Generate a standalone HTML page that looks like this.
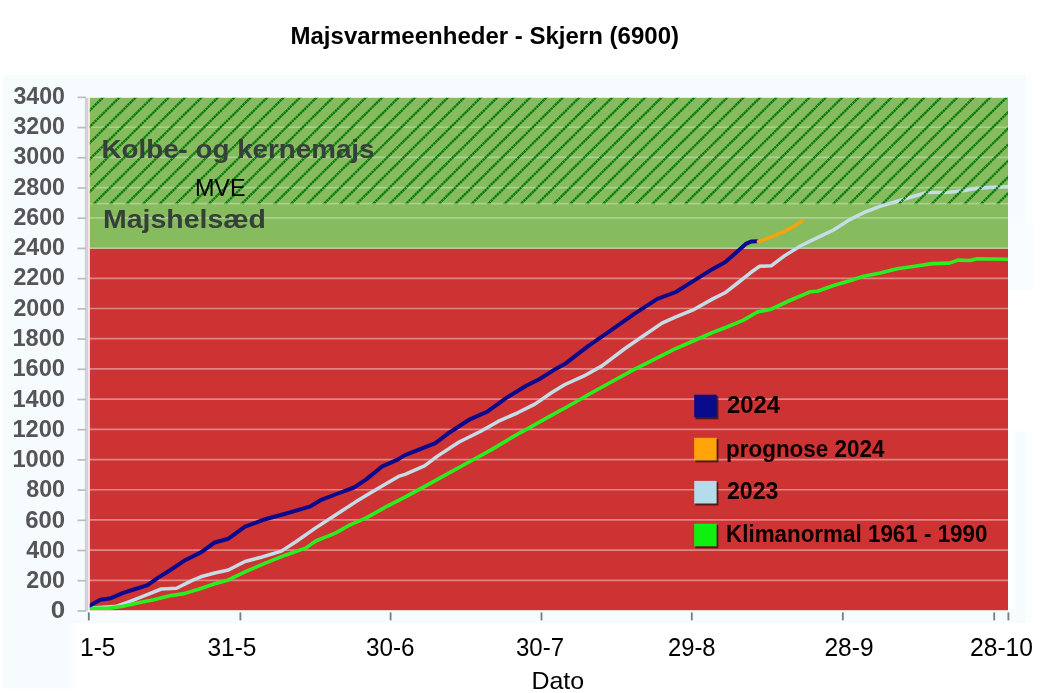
<!DOCTYPE html>
<html lang="da"><head><meta charset="utf-8"><title>Majsvarmeenheder - Skjern (6900)</title>
<style>html,body{margin:0;padding:0;background:#fff}body{width:1049px;height:693px;overflow:hidden}svg{display:block}text{font-family:"Liberation Sans",sans-serif}.b{font-weight:bold}</style>
</head><body>
<svg width="1049" height="693" viewBox="0 0 1049 693">
<defs>
<clipPath id="hz"><rect x="89.8" y="97.8" width="918.2" height="105.5"/></clipPath>
<clipPath id="plot"><rect x="89.8" y="97.8" width="918.2" height="512.4"/></clipPath>
</defs>
<rect x="2.5" y="74.5" width="1029" height="549" fill="#fbfdff"/>
<rect x="2.5" y="74.5" width="73" height="614.5" fill="#fbfdff"/>
<rect x="3.5" y="75.5" width="1022.5" height="547.5" fill="#f6fbfe"/>
<rect x="3.5" y="75.5" width="67.5" height="612.5" fill="#f6fbfe"/>
<rect x="1008" y="223" width="26" height="67" fill="#fafdff"/>
<rect x="1008" y="290" width="26" height="141.5" fill="#ffffff"/>
<rect x="1008" y="431.5" width="7" height="179" fill="#fcfeff"/>
<rect x="89.8" y="248.5" width="918.2" height="361.7" fill="#cd3333"/>
<rect x="89.8" y="97.8" width="918.2" height="150.7" fill="#86bb5e"/>
<line x1="89.8" y1="580.39" x2="1008.0" y2="580.39" stroke="#ffffff" stroke-opacity="0.40" stroke-width="1.7"/>
<line x1="89.8" y1="550.18" x2="1008.0" y2="550.18" stroke="#ffffff" stroke-opacity="0.40" stroke-width="1.7"/>
<line x1="89.8" y1="519.97" x2="1008.0" y2="519.97" stroke="#ffffff" stroke-opacity="0.40" stroke-width="1.7"/>
<line x1="89.8" y1="489.76" x2="1008.0" y2="489.76" stroke="#ffffff" stroke-opacity="0.40" stroke-width="1.7"/>
<line x1="89.8" y1="459.55" x2="1008.0" y2="459.55" stroke="#ffffff" stroke-opacity="0.40" stroke-width="1.7"/>
<line x1="89.8" y1="429.34" x2="1008.0" y2="429.34" stroke="#ffffff" stroke-opacity="0.40" stroke-width="1.7"/>
<line x1="89.8" y1="399.13" x2="1008.0" y2="399.13" stroke="#ffffff" stroke-opacity="0.40" stroke-width="1.7"/>
<line x1="89.8" y1="368.92" x2="1008.0" y2="368.92" stroke="#ffffff" stroke-opacity="0.40" stroke-width="1.7"/>
<line x1="89.8" y1="338.71" x2="1008.0" y2="338.71" stroke="#ffffff" stroke-opacity="0.40" stroke-width="1.7"/>
<line x1="89.8" y1="308.50" x2="1008.0" y2="308.50" stroke="#ffffff" stroke-opacity="0.40" stroke-width="1.7"/>
<line x1="89.8" y1="278.29" x2="1008.0" y2="278.29" stroke="#ffffff" stroke-opacity="0.40" stroke-width="1.7"/>
<line x1="89.8" y1="248.08" x2="1008.0" y2="248.08" stroke="#ffffff" stroke-opacity="0.30" stroke-width="1.7"/>
<line x1="89.8" y1="217.87" x2="1008.0" y2="217.87" stroke="#ffffff" stroke-opacity="0.30" stroke-width="1.7"/>
<line x1="89.8" y1="187.66" x2="1008.0" y2="187.66" stroke="#ffffff" stroke-opacity="0.30" stroke-width="1.7"/>
<line x1="89.8" y1="157.45" x2="1008.0" y2="157.45" stroke="#ffffff" stroke-opacity="0.30" stroke-width="1.7"/>
<line x1="89.8" y1="127.24" x2="1008.0" y2="127.24" stroke="#ffffff" stroke-opacity="0.30" stroke-width="1.7"/>
<line x1="89.8" y1="203.58" x2="1008.0" y2="203.58" stroke="#ffffff" stroke-opacity="0.30" stroke-width="1.6" stroke-dasharray="12.43 4" stroke-dashoffset="9.63"/>
<rect x="84.8" y="97.8" width="3.2" height="513.4" fill="#d2d0dd"/>
<rect x="88" y="97.8" width="1.8" height="512.4" fill="#f6e4e6"/>
<rect x="77.5" y="610.10" width="8.5" height="1.7" fill="#bcbcc2"/>
<rect x="77.5" y="579.89" width="8.5" height="1.7" fill="#bcbcc2"/>
<rect x="77.5" y="549.68" width="8.5" height="1.7" fill="#bcbcc2"/>
<rect x="77.5" y="519.47" width="8.5" height="1.7" fill="#bcbcc2"/>
<rect x="77.5" y="489.26" width="8.5" height="1.7" fill="#bcbcc2"/>
<rect x="77.5" y="459.05" width="8.5" height="1.7" fill="#bcbcc2"/>
<rect x="77.5" y="428.84" width="8.5" height="1.7" fill="#bcbcc2"/>
<rect x="77.5" y="398.63" width="8.5" height="1.7" fill="#bcbcc2"/>
<rect x="77.5" y="368.42" width="8.5" height="1.7" fill="#bcbcc2"/>
<rect x="77.5" y="338.21" width="8.5" height="1.7" fill="#bcbcc2"/>
<rect x="77.5" y="308.00" width="8.5" height="1.7" fill="#bcbcc2"/>
<rect x="77.5" y="277.79" width="8.5" height="1.7" fill="#bcbcc2"/>
<rect x="77.5" y="247.58" width="8.5" height="1.7" fill="#bcbcc2"/>
<rect x="77.5" y="217.37" width="8.5" height="1.7" fill="#bcbcc2"/>
<rect x="77.5" y="187.16" width="8.5" height="1.7" fill="#bcbcc2"/>
<rect x="77.5" y="156.95" width="8.5" height="1.7" fill="#bcbcc2"/>
<rect x="77.5" y="126.74" width="8.5" height="1.7" fill="#bcbcc2"/>
<rect x="77.5" y="96.53" width="8.5" height="1.7" fill="#bcbcc2"/>
<rect x="87.9" y="612.4" width="1.8" height="8" fill="#727f80"/>
<rect x="239.5" y="612.4" width="1.8" height="8" fill="#727f80"/>
<rect x="389.7" y="612.4" width="1.8" height="8" fill="#727f80"/>
<rect x="540.6" y="612.4" width="1.8" height="8" fill="#727f80"/>
<rect x="690.9" y="612.4" width="1.8" height="8" fill="#727f80"/>
<rect x="841.9" y="612.4" width="1.8" height="8" fill="#727f80"/>
<rect x="993.3" y="612.4" width="1.8" height="8" fill="#727f80"/>
<rect x="1007.5" y="612.4" width="1.8" height="8" fill="#727f80"/>
<g clip-path="url(#plot)" fill="none" stroke-linejoin="round" stroke-linecap="round">
<polyline points="90.3,608.1 115.5,606.6 130.8,601.2 146.0,595.1 161.3,589.0 176.5,588.3 191.8,580.6 200.9,576.8 214.7,573.0 228.4,570.0 245.0,561.5 261.2,557.2 281.4,551.1 295.5,542.0 315.7,527.9 335.9,514.7 356.1,501.6 370.3,492.9 386.4,483.4 398.5,476.4 405.0,474.4 424.5,465.8 437.5,456.1 459.1,442.0 480.8,431.2 498.1,421.4 517.6,412.8 534.9,404.1 552.2,392.2 565.0,384.5 583.5,376.2 602.0,365.9 625.0,348.5 643.5,335.8 662.0,323.1 675.9,316.9 694.3,309.3 712.8,298.9 725.0,292.8 738.9,282.0 750.4,272.8 759.6,266.3 771.2,265.8 785.0,255.4 801.2,245.5 817.4,237.7 833.5,230.0 849.7,219.6 863.6,212.7 880.0,206.4 897.3,201.2 914.7,196.0 926.8,192.5 949.3,192.2 963.2,190.8 977.1,188.2 992.7,187.3 1008.5,186.8" stroke="#c6dde8" stroke-width="3.5"/>
<polyline points="90.3,608.4 107.9,608.4 123.1,606.3 138.4,602.8 153.6,599.7 168.9,595.9 184.1,593.6 199.4,589.0 214.7,583.7 228.4,579.9 245.0,571.9 265.2,563.2 285.4,555.2 305.6,548.1 315.7,541.0 335.9,532.9 350.1,524.8 366.2,517.8 386.4,506.7 405.0,497.2 426.6,485.3 448.3,473.4 469.9,461.5 491.6,449.6 513.2,436.6 534.9,424.7 552.2,414.9 565.0,408.0 588.1,394.7 611.2,382.0 634.3,369.3 652.8,360.1 673.5,349.7 694.3,340.5 712.8,332.4 725.0,327.7 743.5,320.1 757.3,312.0 771.2,309.2 789.7,300.5 810.5,291.7 817.4,291.2 833.5,285.5 849.7,280.8 863.6,276.2 880.0,273.0 897.3,268.8 914.7,266.2 932.0,263.6 949.3,263.1 958.0,260.1 970.1,260.5 977.1,258.7 1008.5,259.3" stroke="#28f020" stroke-width="3.6"/>
<polyline points="90.3,605.3 100.3,599.7 110.9,598.2 123.1,592.8 135.3,589.0 147.5,585.2 158.2,577.6 170.4,570.0 184.1,560.8 200.9,552.4 214.7,542.5 228.4,538.7 245.0,526.7 263.2,519.8 285.4,513.7 309.6,506.7 321.8,499.6 337.9,493.5 354.1,487.5 366.2,479.4 382.4,466.3 396.5,460.2 405.0,455.1 435.3,443.1 448.3,433.3 469.9,419.3 487.3,411.7 506.7,397.6 526.2,385.7 539.2,379.2 556.5,368.4 565.0,363.8 588.1,346.2 611.2,330.1 634.3,313.9 657.4,298.9 675.9,292.0 694.3,280.4 712.8,268.9 725.0,262.2 734.2,254.3 745.8,243.9 751.0,241.6 756.8,241.3" stroke="#0c0a8c" stroke-width="4.0"/>
<polyline points="758.5,241.6 771.2,237.0 785.0,231.2 794.3,226.1 802.2,220.9" stroke="#f5a30f" stroke-width="3.6"/>
</g>
<g clip-path="url(#hz)" stroke="#097c0d" stroke-width="2.4" stroke-dasharray="2.4 0.5" fill="none">
<path d="M-6.2,205.3L104.6,95.8M10.2,205.3L121.0,95.8M26.6,205.3L137.4,95.8M43.0,205.3L153.9,95.8M59.5,205.3L170.3,95.8M75.9,205.3L186.7,95.8M92.3,205.3L203.2,95.8M108.8,205.3L219.6,95.8M125.2,205.3L236.0,95.8M141.6,205.3L252.4,95.8M158.1,205.3L268.9,95.8M174.5,205.3L285.3,95.8M190.9,205.3L301.7,95.8M207.3,205.3L318.2,95.8M223.8,205.3L334.6,95.8M240.2,205.3L351.0,95.8M256.6,205.3L367.5,95.8M273.1,205.3L383.9,95.8M289.5,205.3L400.3,95.8M305.9,205.3L416.7,95.8M322.4,205.3L433.2,95.8M338.8,205.3L449.6,95.8M355.2,205.3L466.0,95.8M371.6,205.3L482.5,95.8M388.1,205.3L498.9,95.8M404.5,205.3L515.3,95.8M420.9,205.3L531.8,95.8M437.4,205.3L548.2,95.8M453.8,205.3L564.6,95.8M470.2,205.3L581.0,95.8M486.7,205.3L597.5,95.8M503.1,205.3L613.9,95.8M519.5,205.3L630.3,95.8M535.9,205.3L646.8,95.8M552.4,205.3L663.2,95.8M568.8,205.3L679.6,95.8M585.2,205.3L696.1,95.8M601.7,205.3L712.5,95.8M618.1,205.3L728.9,95.8M634.5,205.3L745.3,95.8M651.0,205.3L761.8,95.8M667.4,205.3L778.2,95.8M683.8,205.3L794.6,95.8M700.2,205.3L811.1,95.8M716.7,205.3L827.5,95.8M733.1,205.3L843.9,95.8M749.5,205.3L860.4,95.8M766.0,205.3L876.8,95.8M782.4,205.3L893.2,95.8M798.8,205.3L909.6,95.8M815.3,205.3L926.1,95.8M831.7,205.3L942.5,95.8M848.1,205.3L958.9,95.8M864.5,205.3L975.4,95.8M881.0,205.3L991.8,95.8M897.4,205.3L1008.2,95.8M913.8,205.3L1024.7,95.8M930.3,205.3L1041.1,95.8M946.7,205.3L1057.5,95.8M963.1,205.3L1073.9,95.8M979.6,205.3L1090.4,95.8M996.0,205.3L1106.8,95.8"/>
</g>
<rect x="695.4" y="396.1" width="23.0" height="23.2" fill="#2a1010" fill-opacity="0.75"/>
<rect x="694.2" y="394.7" width="22.4" height="22.6" fill="#0a0a8c"/>
<rect x="695.4" y="439.2" width="23.0" height="23.2" fill="#2a1010" fill-opacity="0.75"/>
<rect x="694.2" y="437.8" width="22.4" height="22.6" fill="#ffa50a"/>
<rect x="695.4" y="482.3" width="23.0" height="23.2" fill="#2a1010" fill-opacity="0.75"/>
<rect x="694.2" y="480.9" width="22.4" height="22.6" fill="#b4dcea"/>
<rect x="695.4" y="525.1" width="23.0" height="23.2" fill="#2a1010" fill-opacity="0.75"/>
<rect x="694.2" y="523.7" width="22.4" height="22.6" fill="#10f010"/>
<text class="b" x="50.67" y="618.4" font-size="24.8" fill="#555558" textLength="14.42" lengthAdjust="spacingAndGlyphs">0</text>
<text class="b" x="26.24" y="588.1" font-size="24.8" fill="#555558" textLength="38.79" lengthAdjust="spacingAndGlyphs">200</text>
<text class="b" x="26.25" y="557.9" font-size="24.8" fill="#555558" textLength="38.75" lengthAdjust="spacingAndGlyphs">400</text>
<text class="b" x="25.21" y="527.6" font-size="24.8" fill="#555558" textLength="39.84" lengthAdjust="spacingAndGlyphs">600</text>
<text class="b" x="26.24" y="497.3" font-size="24.8" fill="#555558" textLength="38.79" lengthAdjust="spacingAndGlyphs">800</text>
<text class="b" x="12.44" y="467.0" font-size="24.8" fill="#555558" textLength="52.57" lengthAdjust="spacingAndGlyphs">1000</text>
<text class="b" x="12.44" y="436.8" font-size="24.8" fill="#555558" textLength="52.57" lengthAdjust="spacingAndGlyphs">1200</text>
<text class="b" x="12.44" y="406.5" font-size="24.8" fill="#555558" textLength="52.57" lengthAdjust="spacingAndGlyphs">1400</text>
<text class="b" x="12.44" y="376.2" font-size="24.8" fill="#555558" textLength="52.57" lengthAdjust="spacingAndGlyphs">1600</text>
<text class="b" x="12.44" y="346.0" font-size="24.8" fill="#555558" textLength="52.57" lengthAdjust="spacingAndGlyphs">1800</text>
<text class="b" x="13.49" y="315.7" font-size="24.8" fill="#555558" textLength="51.52" lengthAdjust="spacingAndGlyphs">2000</text>
<text class="b" x="13.49" y="285.4" font-size="24.8" fill="#555558" textLength="51.52" lengthAdjust="spacingAndGlyphs">2200</text>
<text class="b" x="13.49" y="255.1" font-size="24.8" fill="#555558" textLength="51.52" lengthAdjust="spacingAndGlyphs">2400</text>
<text class="b" x="13.49" y="224.9" font-size="24.8" fill="#555558" textLength="51.52" lengthAdjust="spacingAndGlyphs">2600</text>
<text class="b" x="13.49" y="194.6" font-size="24.8" fill="#555558" textLength="51.52" lengthAdjust="spacingAndGlyphs">2800</text>
<text class="b" x="13.49" y="164.3" font-size="24.8" fill="#555558" textLength="51.52" lengthAdjust="spacingAndGlyphs">3000</text>
<text class="b" x="13.49" y="134.1" font-size="24.8" fill="#555558" textLength="51.52" lengthAdjust="spacingAndGlyphs">3200</text>
<text class="b" x="13.49" y="103.8" font-size="24.8" fill="#555558" textLength="51.52" lengthAdjust="spacingAndGlyphs">3400</text>
<text x="79.94" y="656.0" font-size="25.5" fill="#000" textLength="35.65" lengthAdjust="spacingAndGlyphs">1-5</text>
<text x="207.46" y="656.0" font-size="25.5" fill="#000" textLength="49.06" lengthAdjust="spacingAndGlyphs">31-5</text>
<text x="365.96" y="656.0" font-size="25.5" fill="#000" textLength="48.58" lengthAdjust="spacingAndGlyphs">30-6</text>
<text x="515.97" y="656.0" font-size="25.5" fill="#000" textLength="48.06" lengthAdjust="spacingAndGlyphs">30-7</text>
<text x="667.96" y="656.0" font-size="25.5" fill="#000" textLength="47.58" lengthAdjust="spacingAndGlyphs">29-8</text>
<text x="824.46" y="656.0" font-size="25.5" fill="#000" textLength="49.11" lengthAdjust="spacingAndGlyphs">28-9</text>
<text x="969.98" y="656.0" font-size="25.5" fill="#000" textLength="63.04" lengthAdjust="spacingAndGlyphs">28-10</text>
<text x="531.40" y="688.7" font-size="24.2" fill="#000" textLength="52.67" lengthAdjust="spacingAndGlyphs">Dato</text>
<text class="b" x="290.50" y="43.7" font-size="23.6" fill="#000" textLength="388.51" lengthAdjust="spacingAndGlyphs">Majsvarmeenheder - Skjern (6900)</text>
<text class="b" x="101.47" y="158.1" font-size="25.4" fill="#36403a" textLength="273.04" lengthAdjust="spacingAndGlyphs">Kolbe- og kernemajs</text>
<text x="194.91" y="195.8" font-size="23.8" fill="#000" textLength="50.64" lengthAdjust="spacingAndGlyphs">MVE</text>
<text class="b" x="102.97" y="227.8" font-size="25.4" fill="#36403a" textLength="163.06" lengthAdjust="spacingAndGlyphs">Majshelsæd</text>
<text class="b" x="726.99" y="413.0" font-size="23.2" fill="#0c0000" textLength="53.01" lengthAdjust="spacingAndGlyphs">2024</text>
<text class="b" x="726.00" y="457.0" font-size="23.2" fill="#0c0000" textLength="158.51" lengthAdjust="spacingAndGlyphs">prognose 2024</text>
<text class="b" x="726.98" y="498.9" font-size="23.2" fill="#0c0000" textLength="51.55" lengthAdjust="spacingAndGlyphs">2023</text>
<text class="b" x="726.00" y="542.0" font-size="23.2" fill="#0c0000" textLength="261.51" lengthAdjust="spacingAndGlyphs">Klimanormal 1961 - 1990</text>
</svg>
</body></html>
